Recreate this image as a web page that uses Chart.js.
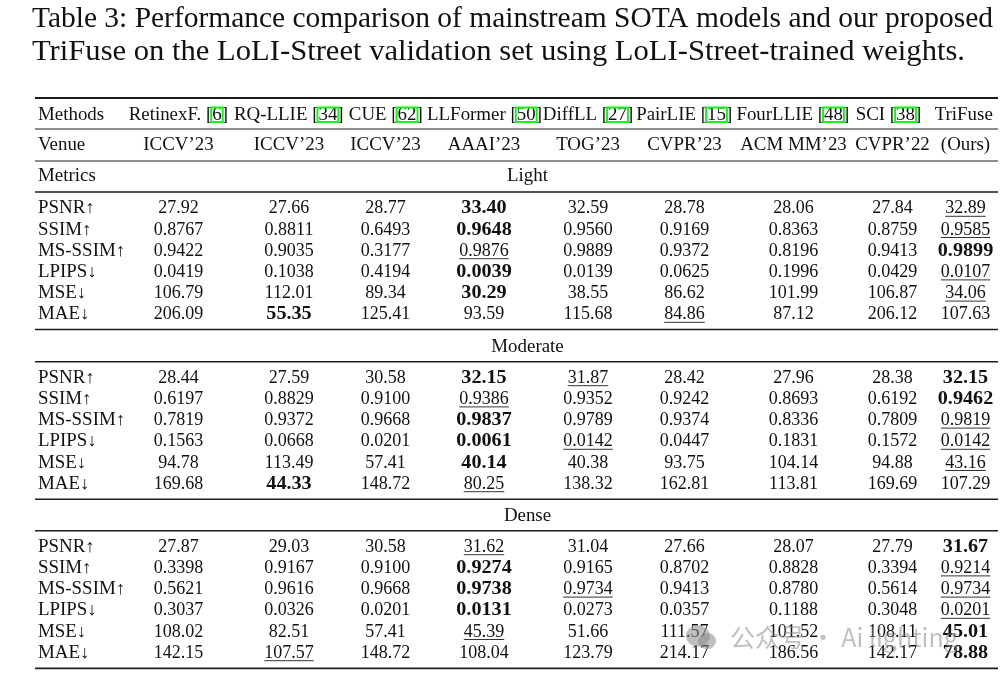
<!DOCTYPE html>
<html>
<head>
<meta charset="utf-8">
<script src="https://cdn.jsdelivr.net/npm/chart.js@4.4.1/dist/chart.umd.min.js"></script>
<style>
  html, body { margin: 0; padding: 0; background: #ffffff; }
  canvas { display: block; }
</style>
</head>
<body>
<canvas id="c" width="1007" height="680"></canvas>
<script>
// ---------------- DATA ----------------
const titleLines = [
  'Table 3: Performance comparison of mainstream SOTA models and our proposed',
  'TriFuse on the LoLI-Street validation set using LoLI-Street-trained weights.'
];
const methods = ['RetinexF.', 'RQ-LLIE', 'CUE', 'LLFormer', 'DiffLL', 'PairLIE', 'FourLLIE', 'SCI', 'TriFuse'];
const refs    = ['6', '34', '62', '50', '27', '15', '48', '38', ''];
const venues  = ['ICCV\u201923', 'ICCV\u201923', 'ICCV\u201923', 'AAAI\u201923', 'TOG\u201923', 'CVPR\u201923', 'ACM MM\u201923', 'CVPR\u201922', '(Ours)'];
const metrics = ['PSNR\u2191', 'SSIM\u2191', 'MS-SSIM\u2191', 'LPIPS\u2193', 'MSE\u2193', 'MAE\u2193'];
const decimals = [2, 4, 4, 4, 2, 2];
const conditions = ['Light', 'Moderate', 'Dense'];

const lightValues = [
  [27.92, 27.66, 28.77, 33.40, 32.59, 28.78, 28.06, 27.84, 32.89],
  [0.8767, 0.8811, 0.6493, 0.9648, 0.9560, 0.9169, 0.8363, 0.8759, 0.9585],
  [0.9422, 0.9035, 0.3177, 0.9876, 0.9889, 0.9372, 0.8196, 0.9413, 0.9899],
  [0.0419, 0.1038, 0.4194, 0.0039, 0.0139, 0.0625, 0.1996, 0.0429, 0.0107],
  [106.79, 112.01, 89.34, 30.29, 38.55, 86.62, 101.99, 106.87, 34.06],
  [206.09, 55.35, 125.41, 93.59, 115.68, 84.86, 87.12, 206.12, 107.63]
];
const lightBest   = [[3], [3], [8], [3], [3], [1]];
const lightSecond = [[8], [8], [3], [8], [8], [5]];

const moderateValues = [
  [28.44, 27.59, 30.58, 32.15, 31.87, 28.42, 27.96, 28.38, 32.15],
  [0.6197, 0.8829, 0.9100, 0.9386, 0.9352, 0.9242, 0.8693, 0.6192, 0.9462],
  [0.7819, 0.9372, 0.9668, 0.9837, 0.9789, 0.9374, 0.8336, 0.7809, 0.9819],
  [0.1563, 0.0668, 0.0201, 0.0061, 0.0142, 0.0447, 0.1831, 0.1572, 0.0142],
  [94.78, 113.49, 57.41, 40.14, 40.38, 93.75, 104.14, 94.88, 43.16],
  [169.68, 44.33, 148.72, 80.25, 138.32, 162.81, 113.81, 169.69, 107.29]
];
const moderateBest   = [[3, 8], [8], [3], [3], [3], [1]];
const moderateSecond = [[4], [3], [8], [4, 8], [8], [3]];

const denseValues = [
  [27.87, 29.03, 30.58, 31.62, 31.04, 27.66, 28.07, 27.79, 31.67],
  [0.3398, 0.9167, 0.9100, 0.9274, 0.9165, 0.8702, 0.8828, 0.3394, 0.9214],
  [0.5621, 0.9616, 0.9668, 0.9738, 0.9734, 0.9413, 0.8780, 0.5614, 0.9734],
  [0.3037, 0.0326, 0.0201, 0.0131, 0.0273, 0.0357, 0.1188, 0.3048, 0.0201],
  [108.02, 82.51, 57.41, 45.39, 51.66, 111.57, 101.52, 108.11, 45.01],
  [142.15, 107.57, 148.72, 108.04, 123.79, 214.17, 186.56, 142.17, 78.88]
];
const denseBest   = [[8], [3], [3], [3], [8], [8]];
const denseSecond = [[3], [8], [4, 8], [8], [3], [1]];

const watermarkText = '\u516C\u4F17\u53F7 \u00B7 Ai lighting';

// ---------------- LAYOUT (positions / styles) ----------------
const W = 1007, H = 680;
const labelX = 38;
const colX = [178.5, 289, 385.5, 484, 588, 684.5, 793.5, 892.5, 965.5];
const headColX = [178.3, 288.8, 385.8, 484.5, 588, 684.2, 792.8, 888.5, 963.7];
const sectionX = 527.5;
const titleX = 32, titleWidths = [961, 933], titleY = [27, 60];
const yMethods = 120, yVenue = 150, yMetrics = 181;
const sectionLabelY = [181, 351.5, 520.7];
const sectionFirstY = [213.3, 382.7, 551.7];
const rowPitch = 21.2;
const ruleX0 = 35, ruleX1 = 998;
const rules = [[98, 1.8], [129, 1], [161, 1], [192, 1.4], [329.5, 1.4], [361.7, 1.4], [499.3, 1.4], [530.7, 1.4], [668.3, 1.8]];
const FONT = '"Liberation Serif", "DejaVu Serif", serif';
const FS = 18;
const TEXT = '#111111';

// ---------------- BUILD POINTS ----------------
const cells = [];
function add(x, y, text, o) { cells.push(Object.assign({ x, y, text, align: 'center', bold: false, under: false, kind: 'text' }, o || {})); }

titleLines.forEach((t, i) => add(titleX, titleY[i], t, { align: 'left', kind: 'title', fit: titleWidths[i] }));
add(labelX, yMethods, 'Methods', { align: 'left' });
methods.forEach((m, i) => add(headColX[i], yMethods, m, { kind: 'head', ref: refs[i] }));
add(labelX, yVenue, 'Venue', { align: 'left' });
venues.forEach((v, i) => add(colX[i], yVenue, v));
add(labelX, yMetrics, 'Metrics', { align: 'left' });

const allBlocks = [[lightValues, lightBest, lightSecond], [moderateValues, moderateBest, moderateSecond], [denseValues, denseBest, denseSecond]];
allBlocks.forEach((b, bi) => {
  const [vals, best, second] = b;
  add(sectionX, sectionLabelY[bi], conditions[bi]);
  metrics.forEach((m, r) => {
    const y = sectionFirstY[bi] + r * rowPitch;
    add(labelX, y, m, { align: 'left' });
    vals[r].forEach((v, c) => {
      add(colX[c], y, v.toFixed(decimals[r]), { num: true, bold: best[r].includes(c), under: second[r].includes(c) });
    });
  });
});

const ruleSets = rules.map(([y, w]) => ({
  type: 'line',
  data: [{ x: ruleX0, y }, { x: ruleX1, y }],
  showLine: true, borderColor: '#1c1c1c', borderWidth: w,
  pointRadius: 0, fill: false, clip: false
}));

// ---------------- DRAW PLUGIN ----------------
function fontFor(c) {
  return (c.bold ? 'bold ' : '') + FS + 'px ' + FONT;
}
function sxFor(c) {
  if (c.bold) return 1.12;
  if (c.num) return 1.0;
  return 1.05;
}
const tablePlugin = {
  id: 'tableText',
  afterDatasetsDraw(chart) {
    const ctx = chart.ctx, xs = chart.scales.x, ys = chart.scales.y;
    const ds = chart.data.datasets[chart.data.datasets.length - 1];
    ctx.save();
    ctx.textBaseline = 'alphabetic';
    ctx.fillStyle = TEXT;
    ds.data.forEach(c => {
      const px = xs.getPixelForValue(c.x), py = ys.getPixelForValue(c.y);
      if (c.kind === 'title') {
        ctx.font = '29.5px ' + FONT;
        const w = ctx.measureText(c.text).width;
        const sx = c.fit / w;
        ctx.save(); ctx.translate(px, py); ctx.scale(sx, 1);
        ctx.textAlign = 'left'; ctx.fillText(c.text, 0, 0); ctx.restore();
        return;
      }
      ctx.font = fontFor(c);
      const sx = sxFor(c);
      if (c.kind === 'head') {
        const pre = c.ref ? c.text + ' [' : c.text;
        const post = c.ref ? ']' : '';
        const wPre = ctx.measureText(pre).width * sx;
        const wRef = c.ref ? ctx.measureText(c.ref).width * sx : 0;
        const wPost = c.ref ? ctx.measureText(post).width * sx : 0;
        const total = wPre + wRef + wPost;
        let x0 = px - total / 2;
        ctx.save(); ctx.translate(x0, py); ctx.scale(sx, 1);
        ctx.textAlign = 'left';
        ctx.fillText(pre + (c.ref || '') + post, 0, 0);
        ctx.restore();
        if (c.ref) {
          ctx.save();
          ctx.strokeStyle = '#00ff00'; ctx.lineWidth = 1.9;
          ctx.strokeRect(x0 + wPre - 1, py - 12.5, wRef + 2, 14.5);
          ctx.restore();
        }
        return;
      }
      const w = ctx.measureText(c.text).width * sx;
      let x0 = c.align === 'left' ? px : px - w / 2;
      ctx.save(); ctx.translate(x0, py); ctx.scale(sx, 1);
      ctx.textAlign = 'left'; ctx.fillText(c.text, 0, 0); ctx.restore();
      if (c.under) {
        ctx.save();
        ctx.strokeStyle = '#333333'; ctx.lineWidth = 1;
        ctx.beginPath(); ctx.moveTo(x0, py + 3); ctx.lineTo(x0 + w, py + 3); ctx.stroke();
        ctx.restore();
      }
    });
    ctx.restore();
  },
  afterDraw(chart) {
    // faint watermark
    const ctx = chart.ctx, xs = chart.scales.x, ys = chart.scales.y;
    const x = xs.getPixelForValue(686), y = ys.getPixelForValue(647);
    ctx.save();
    ctx.globalAlpha = 0.55;
    ctx.fillStyle = '#8a8a8a';
    ctx.beginPath(); ctx.ellipse(x + 12, y - 11, 12, 10.5, 0, 0, Math.PI * 2); ctx.fill();
    ctx.beginPath(); ctx.ellipse(x + 21, y - 6, 9, 8, 0, 0, Math.PI * 2); ctx.fill();
    ctx.font = '25px "Noto Sans CJK SC", "Noto Sans", sans-serif';
    ctx.textBaseline = 'alphabetic';
    ctx.fillText(watermarkText, x + 44, y);
    ctx.restore();
  }
};

new Chart(document.getElementById('c'), {
  type: 'scatter',
  data: {
    datasets: [...ruleSets, { type: 'scatter', data: cells, pointRadius: 0, pointHoverRadius: 0 }]
  },
  options: {
    responsive: false,
    animation: false,
    devicePixelRatio: 1,
    events: [],
    layout: { padding: 0 },
    plugins: { legend: { display: false }, tooltip: { enabled: false }, title: { display: false } },
    scales: {
      x: { type: 'linear', min: 0, max: W, display: false },
      y: { type: 'linear', min: 0, max: H, reverse: true, display: false }
    }
  },
  plugins: [tablePlugin]
});
</script>
</body>
</html>
